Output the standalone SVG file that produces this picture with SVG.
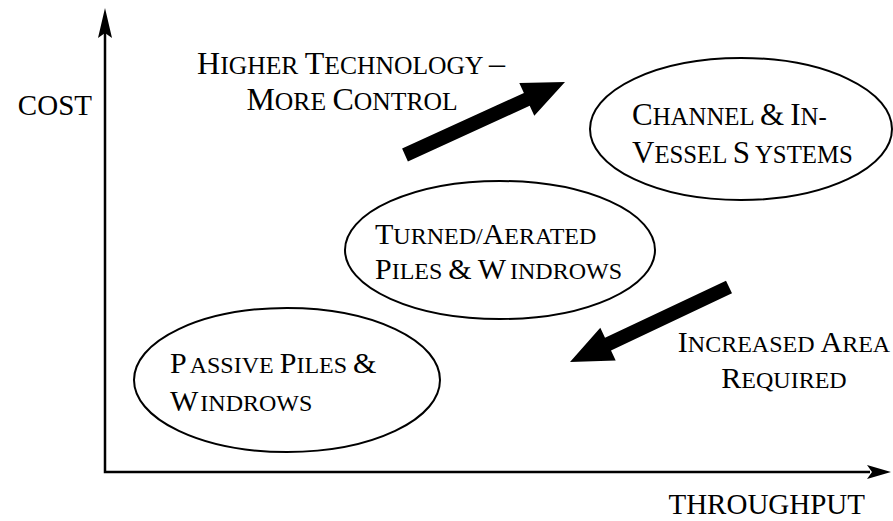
<svg xmlns="http://www.w3.org/2000/svg" width="893" height="521" viewBox="0 0 893 521">
<style>
text{font-family:"Liberation Serif","Times New Roman",serif;font-size:24px;fill:#000}
.b{font-size:30px}
.h{font-size:25.6px}.h .b{font-size:32px}
.c{font-size:24.8px}.c .b{font-size:31px}
.ax{font-size:29px}
.ell{fill:#fff;stroke:#000;stroke-width:2}
.axis{stroke:#000;stroke-width:2.5;fill:none}
.big{fill:#000;stroke:none}
</style>
<rect width="893" height="521" fill="#fff"/>
<g id="connectors">
<path class="axis" d="M105,30 V472 H870"/>
<path d="M105,8 L112,38 L105,33 L98,38 Z" fill="#000"/>
<path d="M891,472 L867,465 L872,472 L867,479 Z" fill="#000"/>
<polygon id="arrow-up" class="big" points="402.1,148.6 523.9,93 519.3,83 565,82 534.3,115.8 529.7,105.8 407.9,161.4"/>
<polygon id="arrow-down" class="big" points="726,280.7 605,337.8 600.3,327.8 570,362 615.7,360.4 611,350.4 732,293.3"/>
</g>
<g id="axis-labels">
<text class="ax" x="92" y="115" text-anchor="end">COST</text>
<text class="ax" x="865" y="514" text-anchor="end">THROUGHPUT</text>
</g>
<g id="label-tech">
<text class="h" x="351" y="74" text-anchor="middle"><tspan class="b">H</tspan>IGHER <tspan class="b">T</tspan>ECHNOLOGY <tspan class="b">–</tspan></text>
<text class="h" x="352" y="110" text-anchor="middle"><tspan class="b">M</tspan>ORE <tspan class="b">C</tspan>ONTROL</text>
</g>
<g id="label-area">
<text x="784" y="352" text-anchor="middle"><tspan class="b">I</tspan>NCREASED <tspan class="b">A</tspan>REA</text>
<text x="784" y="388" text-anchor="middle"><tspan class="b">R</tspan>EQUIRED</text>
</g>
<g id="node-channel">
<ellipse class="ell" cx="741" cy="129" rx="151" ry="71"/>
<text class="c" x="632" y="125"><tspan class="b">C</tspan>HANNEL <tspan class="b">&amp;</tspan> <tspan class="b">I</tspan>N-</text>
<text class="c" x="632" y="163"><tspan class="b">V</tspan>ESSEL <tspan class="b">S</tspan><tspan dx="5">YSTEMS</tspan></text>
</g>
<g id="node-turned">
<ellipse class="ell" cx="500" cy="250" rx="155" ry="69"/>
<text x="375" y="244"><tspan class="b">T</tspan>URNED/<tspan class="b">A</tspan>ERATED</text>
<text x="375" y="279"><tspan class="b">P</tspan>ILES <tspan class="b">&amp;</tspan> <tspan class="b">W</tspan><tspan dx="4">INDROWS</tspan></text>
</g>
<g id="node-passive">
<ellipse class="ell" cx="287" cy="380" rx="153" ry="72"/>
<text x="170" y="373"><tspan class="b">P</tspan><tspan dx="3">ASSIVE</tspan> <tspan class="b">P</tspan>ILES <tspan class="b">&amp;</tspan></text>
<text x="170" y="411"><tspan class="b">W</tspan><tspan dx="2">INDROWS</tspan></text>
</g>
</svg>
